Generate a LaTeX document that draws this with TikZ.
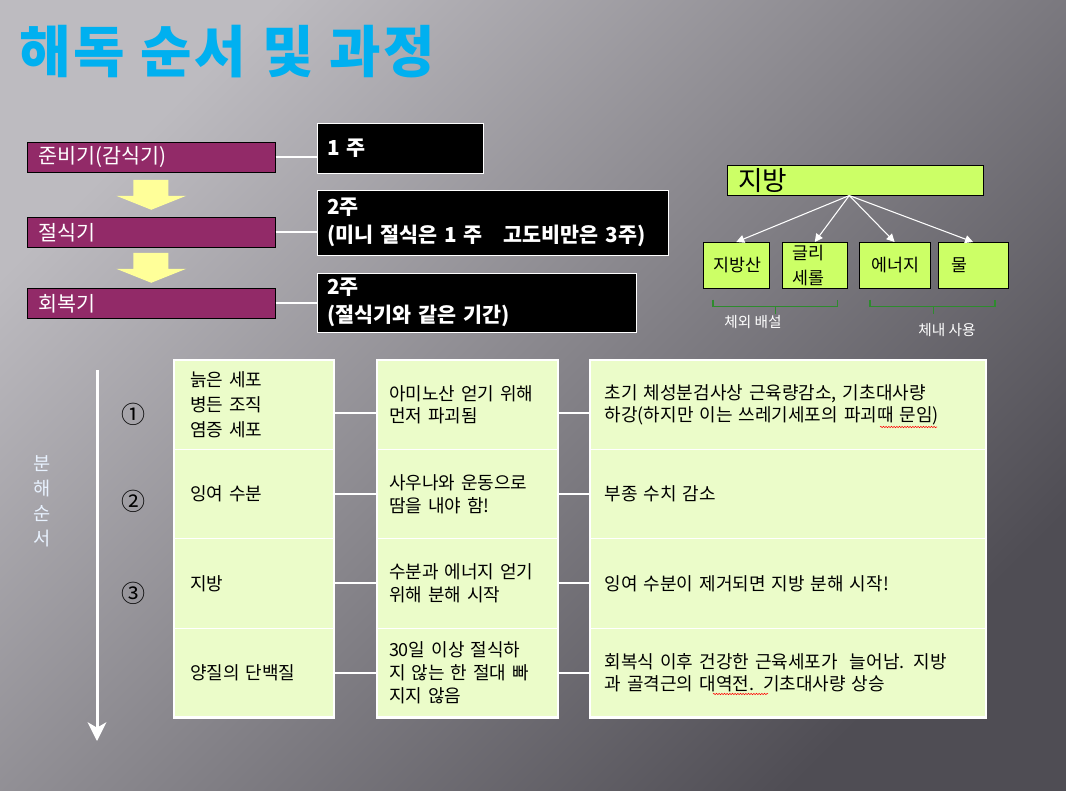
\documentclass[tikz,border=0pt]{standalone}
\usepackage{fontspec}
\setmainfont{Noto Sans CJK KR}
\newfontfamily\titlefont{Noto Sans CJK KR}[LetterSpace=5]
\usetikzlibrary{arrows.meta,positioning,calc,decorations.pathmorphing}

\definecolor{bglight}{HTML}{BDBBC0}
\definecolor{bgdark}{HTML}{4F4D54}
\definecolor{titlecyan}{HTML}{00B0F0}
\definecolor{stagepurple}{HTML}{922A68}
\definecolor{arrowyellow}{HTML}{FFFF99}
\definecolor{fatgreen}{HTML}{CCFF66}
\definecolor{cellgreen}{HTML}{EBFCC9}
\definecolor{bracegreen}{HTML}{2E8B2E}
\definecolor{sidetext}{HTML}{E8F2FF}

\begin{document}
\begin{tikzpicture}[x=0.75pt,y=-0.75pt]

  \tikzstyle{title}=[font=\titlefont\bfseries\fontsize{42}{50}\selectfont, text=titlecyan, inner sep=0pt, anchor=west]
  \tikzstyle{stage}=[draw=black, fill=stagepurple, text=white, font=\fontsize{15.5}{18}\selectfont, anchor=north west, align=left, inner xsep=8.25pt, inner ysep=0pt, text width=169.5pt, minimum height=22.5pt]
  \tikzstyle{period}=[draw=white, thin, fill=black, text=white, font=\bfseries\fontsize{15.5}{21}\selectfont, anchor=north west, align=left, inner xsep=7.5pt, inner ysep=0pt]
  \tikzstyle{link}=[draw=white, line width=1.5pt]
  \tikzstyle{fatbox}=[draw=black, fill=fatgreen, text=black, anchor=north west, align=left, inner ysep=0pt]
  \tikzstyle{split}=[draw=white, line width=0.8pt, -{Triangle[length=6pt,width=6pt]}]
  \tikzstyle{brace}=[draw=bracegreen, line width=1.1pt]
  \tikzstyle{note}=[text=white, font=\fontsize{11}{13}\selectfont]
  \tikzstyle{cell}=[draw=white, line width=0.75pt, fill=cellgreen, text=black, anchor=north west, align=left, inner ysep=0pt, outer sep=0pt, minimum height=67pt]
  \tikzstyle{colA}=[cell, inner xsep=12pt, text width=96pt, font=\fontsize{13.5}{19}\selectfont]
  \tikzstyle{colB}=[cell, inner xsep=9pt, text width=117.75pt, font=\fontsize{13.5}{17}\selectfont]
  \tikzstyle{colC}=[cell, inner xsep=11pt, text width=275pt, font=\fontsize{13.5}{17}\selectfont]
  \tikzstyle{frame}=[draw=white, line width=2pt]
  \tikzstyle{order}=[draw=white, line width=2.25pt, -{Stealth[length=14pt,width=14pt,inset=4pt]}]
  \tikzstyle{rank}=[text=black, font=\fontsize{18}{20}\selectfont]
  \tikzstyle{typo}=[draw=red, line width=0.4pt, decorate, decoration={snake,amplitude=0.5pt,segment length=2pt}]

  % background
  \shade [top color=bglight, bottom color=bgdark, shading angle=45] (0,0) rectangle (1066,790);
  \useasboundingbox (0,0) rectangle (1066,790);

  \node [title] (heading) at (19,52) {해독 순서 및 과정};

  % stages and periods
  \node [stage] (prep) at (27,142) {준비기(감식기)};
  \node [stage] (fast) at (27,217) {절식기};
  \node [stage] (recov) at (27,288) {회복기};
  \newcommand{\stagearrow}[2]{%
    \coordinate (mid) at ($(#1.south)!0.5!(#2.north)$);
    \fill [arrowyellow] ($(mid)+(-18,-15)$) -- ($(mid)+(17,-15)$) -- ($(mid)+(17,1)$)
      -- ($(mid)+(35,1)$) -- ($(mid)+(0,15)$) -- ($(mid)+(-35,1)$) -- ($(mid)+(-18,1)$) -- cycle;}
  \stagearrow{prep}{fast}
  \stagearrow{fast}{recov}

  \node [period, text width=109.5pt, minimum height=37.5pt] (wk1) at (317,123) {1 주};
  \node [period, text width=248.25pt, minimum height=48.75pt] (wk2) at (317,190) {2주\\(미니 절식은 1 주~~~고도비만은 3주)};
  \node [period, text width=224.25pt, minimum height=44.25pt] (wk3) at (317,273) {2주\\(절식기와 같은 기간)};
  \draw [link] (prep.east) -- (prep.east -| wk1.west);
  \draw [link] (fast.east) -- (fast.east -| wk2.west);
  \draw [link] (recov.east) -- (recov.east -| wk3.west);

  % fat breakdown
  \node [fatbox, text width=175.5pt, inner xsep=8.25pt, minimum height=22.5pt, font=\fontsize{20}{24}\selectfont] (fat) at (727,165) {지방};
  \node [fatbox, text width=33.5pt, inner xsep=8pt, minimum height=34.5pt, font=\fontsize{13}{18.75}\selectfont] (acid) at (703,242) {지방산};
  \node [fatbox, text width=32.75pt, inner xsep=8pt, minimum height=34.5pt, font=\fontsize{13}{18.75}\selectfont] (glyc) at (782,242) {글리\\세롤};
  \node [fatbox, text width=35pt, inner xsep=9pt, minimum height=34.5pt, font=\fontsize{13}{18.75}\selectfont] (fuel) at (859,242) {에너지};
  \node [fatbox, text width=32.25pt, inner xsep=10pt, minimum height=34.5pt, font=\fontsize{13}{18.75}\selectfont] (water) at (938,242) {물};
  \coordinate (fork) at ($(fat.south)+(-6,0)$);
  \draw [split] (fork) -- (acid.north);
  \draw [split] (fork) -- (glyc.north);
  \draw [split] (fork) -- (fuel.north);
  \draw [split] (fork) -- (water.north);
  \draw [brace] ($(acid.south west)+(10,11)$) |- ($(glyc.south east)+(-10,18)$) -- ++(0,-7);
  \draw [brace] ($(acid.south west)!0.5!(glyc.south east)+(0,18)$) -- ++(0,7);
  \draw [brace] ($(fuel.south west)+(11,11)$) |- ($(water.south east)+(-13,18)$) -- ++(0,-7);
  \draw [brace] ($(fuel.south west)!0.5!(water.south east)+(0,18)$) -- ++(0,7);
  \node [note] (outlab) at (753,322) {체외 배설};
  \node [note] (inlab) at (947,330) {체내 사용};

  % breakdown order
  \coordinate (ordtop) at (97,370);
  \coordinate (ordend) at (97,741);
  \draw [order] (ordtop) -- (ordend);
  \node [text=sidetext, align=center, font=\fontsize{14}{18.75}\selectfont] (ordlab) at (42,501) {분\\해\\순\\서};
  \node [rank] (r1) at (133,414) {①};
  \node [rank] (r2) at (133,501) {②};
  \node [rank] (r3) at (133,593) {③};

  \node [colA] (old) at (174,360) {늙은 세포\\병든 조직\\염증 세포};
  \node [colA] (surplus) at (old.south west) {잉여 수분};
  \node [colA] (lipid) at (surplus.south west) {지방};
  \node [colA] (protein) at (lipid.south west) {양질의 단백질};

  \node [colB] (amino) at (377,360) {아미노산 얻기 위해\\먼저 파괴됨};
  \node [colB] (sauna) at (amino.south west) {사우나와 운동으로\\땀을 내야 함!};
  \node [colB] (burn) at (sauna.south west) {수분과 에너지 얻기\\위해 분해 시작};
  \node [colB] (keep) at (burn.south west) {30일 이상 절식하\\지 않는 한 절대 빠\\지지 않음};

  \node [colC] (early) at (590,360) {초기 체성분검사상 근육량감소, 기초대사량\\하강(하지만 이는 쓰레기세포의 파괴때 문임)};
  \node [colC] (edema) at (early.south west) {부종 수치 감소};
  \node [colC] (lipolysis) at (edema.south west) {잉여 수분이 제거되면 지방 분해 시작!};
  \node [colC] (reverse) at (lipolysis.south west) {회복식 이후 건강한 근육세포가~~늘어남. 지방\\과 골격근의 대역전. 기초대사량 상승};

  \draw [frame] (old.north west) rectangle (protein.south east);
  \draw [frame] (amino.north west) rectangle (keep.south east);
  \draw [frame] (early.north west) rectangle (reverse.south east);

  \draw [link] ($(old.east)+(0,8)$) -- ($(amino.west)+(0,8)$);
  \draw [link] (surplus.east) -- (sauna.west);
  \draw [link] (lipid.east) -- (burn.west);
  \draw [link] (protein.east) -- (keep.west);
  \draw [link] ($(amino.east)+(0,8)$) -- ($(early.west)+(0,8)$);
  \draw [link] (sauna.east) -- (edema.west);
  \draw [link] (burn.east) -- (lipolysis.west);
  \draw [link] (keep.east) -- (reverse.west);

  \draw [typo] (880,427) -- (937,427);
  \draw [typo] (713,694) -- (768,694);
\end{tikzpicture}
\end{document}
